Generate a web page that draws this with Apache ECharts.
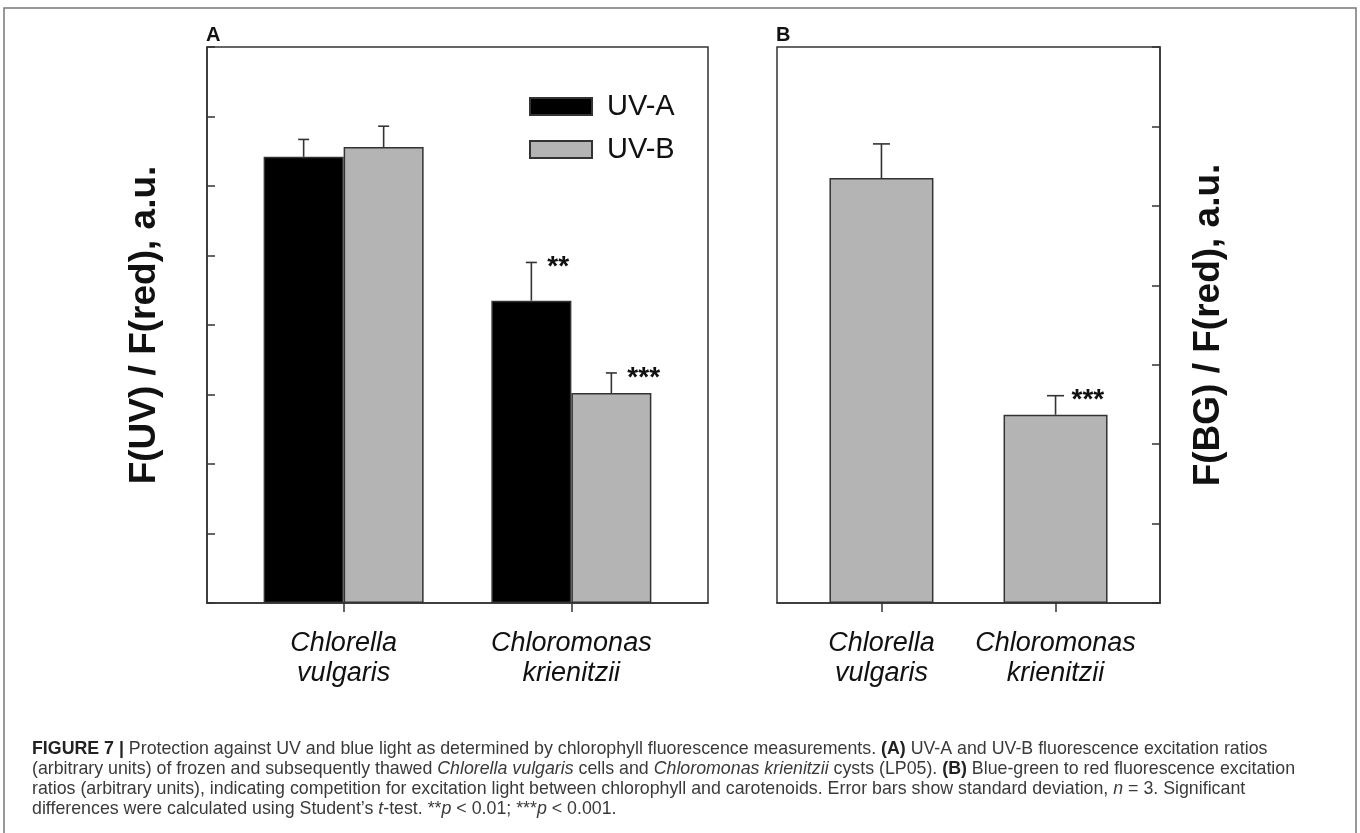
<!DOCTYPE html>
<html>
<head>
<meta charset="utf-8">
<script src="https://cdn.jsdelivr.net/npm/echarts@6/dist/echarts.min.js"></script>
<style>html,body{margin:0;padding:0;background:#fff;}#c{width:1360px;height:833px;}</style>
</head>
<body>
<div id="c"></div>
<script>
// ---- data ----
const categories = ['Chlorella vulgaris', 'Chloromonas krienitzii'];
const seriesNamesA = ['UV-A', 'UV-B'];
const uvA = [6.42, 4.35];
const uvAErr = [0.25, 0.55];
const uvASig = ['', '**'];
const uvB = [6.56, 3.02];
const uvBErr = [0.30, 0.29];
const uvBSig = ['', '***'];
const bg = [5.35, 2.37];
const bgErr = [0.43, 0.24];
const bgSig = ['', '***'];
const yMaxA = 8;
const yMaxB = 7;
const yTitleA = 'F(UV) / F(red), a.u.';
const yTitleB = 'F(BG) / F(red), a.u.';

// ---- build ----
const catX = categories.map((c, i) => i + 1);
const FONT = 'Liberation Sans, Arial, Helvetica, sans-serif';
const EDGE = '#333';
const barWA = 80, barWB = 104;

function pts(vals) { return vals.map((v, i) => [catX[i], v]); }
function errPts(vals, errs) { return vals.map((v, i) => [catX[i], v, errs[i]]); }

function errRender(offset, capHalf, sig) {
  return function (params, api) {
    const x = api.value(0), y = api.value(1), e = api.value(2);
    const b = api.coord([x, y]);
    const t = api.coord([x, y + e]);
    const cx = b[0] + offset;
    const children = [
      { type: 'line', shape: { x1: cx, y1: b[1], x2: cx, y2: t[1] }, style: { stroke: EDGE, lineWidth: 1.6 } },
      { type: 'line', shape: { x1: cx - capHalf, y1: t[1], x2: cx + capHalf, y2: t[1] }, style: { stroke: EDGE, lineWidth: 1.6 } }
    ];
    const s = sig[params.dataIndex];
    if (s) {
      children.push({ type: 'text', x: cx + 16, y: t[1] + 5,
        style: { text: s, font: 'bold 28px ' + FONT, fill: '#111', textAlign: 'left', textVerticalAlign: 'middle' } });
    }
    return { type: 'group', children: children };
  };
}

const xAxisCommon = {
  type: 'value', min: 0.4, max: 2.6,
  axisLine: { show: true, lineStyle: { color: EDGE, width: 1.5 } },
  axisTick: { show: true, inside: false, length: 9, customValues: catX, lineStyle: { color: EDGE, width: 1.5 } },
  axisLabel: {
    show: true, customValues: catX, margin: 25,
    formatter: v => categories[Math.round(v) - 1].replace(' ', '\n'),
    fontFamily: FONT, fontStyle: 'italic', fontSize: 27, lineHeight: 30, color: '#111'
  },
  splitLine: { show: false }
};

const yAxisCommon = {
  type: 'value', min: 0, interval: 1,
  axisLine: { show: true, lineStyle: { color: EDGE, width: 1.5 } },
  axisTick: { show: true, inside: true, length: 8, lineStyle: { color: EDGE, width: 1.5 } },
  axisLabel: { show: false },
  splitLine: { show: false },
  nameLocation: 'middle', nameRotate: 90,
  nameTextStyle: { fontFamily: FONT, fontWeight: 'bold', fontSize: 37, color: '#111' }
};

const caption = [
  '{b|FIGURE 7 |} Protection against UV and blue light as determined by chlorophyll fluorescence measurements. {b|(A)} UV-A and UV-B fluorescence excitation ratios',
  '(arbitrary units) of frozen and subsequently thawed {i|Chlorella vulgaris} cells and {i|Chloromonas krienitzii} cysts (LP05). {b|(B)} Blue-green to red fluorescence excitation',
  'ratios (arbitrary units), indicating competition for excitation light between chlorophyll and carotenoids. Error bars show standard deviation, {i|n} = 3. Significant',
  'differences were calculated using Student\u2019s {i|t}-test. **{i|p} < 0.01; ***{i|p} < 0.001.'
].join('\n');
const CAP = 17.8;

const chart = echarts.init(document.getElementById('c'), null, { renderer: 'canvas' });
chart.setOption({
  backgroundColor: '#fff',
  animation: false,
  title: [
    { text: 'A', left: 206, top: 25, padding: 0, textStyle: { fontFamily: FONT, fontWeight: 'bold', fontSize: 20, color: '#111' } },
    { text: 'B', left: 776, top: 25, padding: 0, textStyle: { fontFamily: FONT, fontWeight: 'bold', fontSize: 20, color: '#111' } },
    { text: caption, left: 32, top: 739, padding: 0,
      textStyle: { fontFamily: FONT, fontWeight: 'normal', fontSize: CAP, lineHeight: 20, color: '#3a3a3a',
        rich: {
          b: { fontFamily: FONT, fontWeight: 'bold', fontSize: CAP, lineHeight: 20, color: '#222' },
          i: { fontFamily: FONT, fontStyle: 'italic', fontSize: CAP, lineHeight: 20, color: '#3a3a3a' }
        } } }
  ],
  graphic: [
    { type: 'rect', shape: { x: 4, y: 8, width: 1352, height: 900 }, style: { fill: 'none', stroke: '#777', lineWidth: 1.5 }, silent: true }
  ],
  legend: {
    data: seriesNamesA, orient: 'vertical', left: 529, top: 92, padding: 0,
    itemWidth: 62, itemHeight: 17, itemGap: 14, icon: 'rect',
    textStyle: { fontFamily: FONT, fontSize: 29, lineHeight: 24, color: '#111', padding: [0, 0, 0, 10] }
  },
  grid: [
    { left: 207, top: 47, width: 501, height: 556, show: true, borderColor: EDGE, borderWidth: 1.5, backgroundColor: 'transparent' },
    { left: 777, top: 47, width: 383, height: 556, show: true, borderColor: EDGE, borderWidth: 1.5, backgroundColor: 'transparent' }
  ],
  xAxis: [
    Object.assign({ gridIndex: 0 }, xAxisCommon),
    Object.assign({ gridIndex: 1 }, xAxisCommon)
  ],
  yAxis: [
    Object.assign({}, yAxisCommon, { gridIndex: 0, max: yMaxA, position: 'left', name: yTitleA, nameGap: 44 }),
    Object.assign({}, yAxisCommon, { gridIndex: 1, max: yMaxB, position: 'right', name: yTitleB, nameGap: 30 })
  ],
  series: [
    { name: seriesNamesA[0], type: 'bar', xAxisIndex: 0, yAxisIndex: 0, data: pts(uvA), barWidth: barWA, barGap: '0%',
      itemStyle: { color: '#000', borderColor: EDGE, borderWidth: 1.5 } },
    { name: seriesNamesA[1], type: 'bar', xAxisIndex: 0, yAxisIndex: 0, data: pts(uvB), barWidth: barWA, barGap: '0%',
      itemStyle: { color: '#b4b4b4', borderColor: EDGE, borderWidth: 1.5 } },
    { name: 'BG', type: 'bar', xAxisIndex: 1, yAxisIndex: 1, data: pts(bg), barWidth: barWB,
      itemStyle: { color: '#b4b4b4', borderColor: EDGE, borderWidth: 1.5 } },
    { name: 'errA', type: 'custom', xAxisIndex: 0, yAxisIndex: 0, data: errPts(uvA, uvAErr), z: 5,
      renderItem: errRender(-barWA / 2, 5.5, uvASig) },
    { name: 'errB', type: 'custom', xAxisIndex: 0, yAxisIndex: 0, data: errPts(uvB, uvBErr), z: 5,
      renderItem: errRender(barWA / 2, 5.5, uvBSig) },
    { name: 'errBG', type: 'custom', xAxisIndex: 1, yAxisIndex: 1, data: errPts(bg, bgErr), z: 5,
      renderItem: errRender(0, 8.5, bgSig) }
  ]
});
</script>
</body>
</html>
